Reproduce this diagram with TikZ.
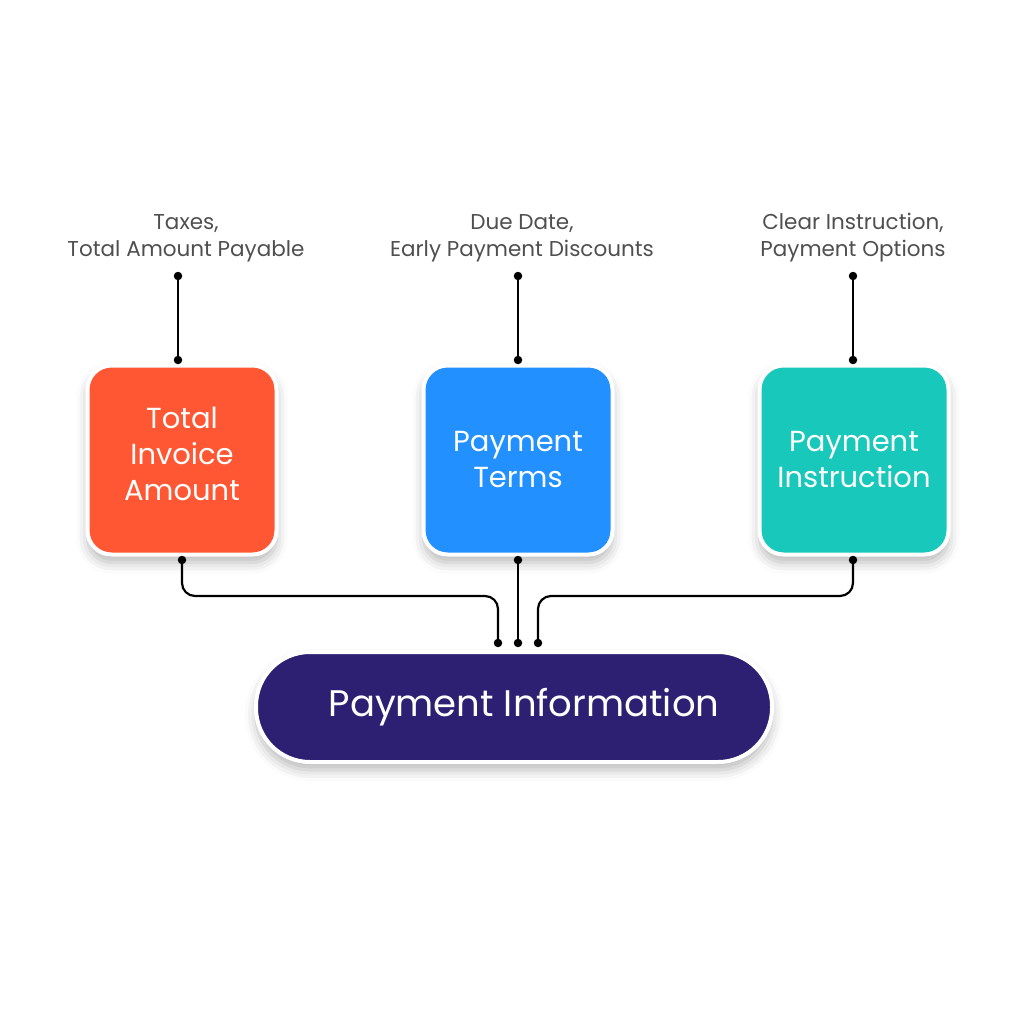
\documentclass[tikz,border=0pt]{standalone}
\usepackage{fontspec}
\setmainfont{Poppins}
\usetikzlibrary{shadows, shadows.blur, positioning}

\definecolor{invoiceorange}{HTML}{FF5733}
\definecolor{termsblue}{HTML}{2291FF}
\definecolor{instrteal}{HTML}{18C8BA}
\definecolor{infonavy}{HTML}{2D1F72}
\definecolor{labelgray}{HTML}{4F4F4F}

\tikzset{
  card/.style={rounded corners=24pt, draw=white, line width=4pt,
    minimum width=189pt, minimum height=189pt, text=white, align=center,
    font=\fontsize{29}{36}\selectfont,
    blur shadow={shadow xshift=0pt, shadow yshift=-8pt, shadow blur radius=11pt, shadow opacity=28}},
  pill/.style={rounded corners=54pt, draw=white, line width=4pt,
    minimum width=516pt, minimum height=110pt, fill=infonavy, text=white,
    font=\fontsize{37}{40}\selectfont,
    blur shadow={shadow xshift=0pt, shadow yshift=-8pt, shadow blur radius=11pt, shadow opacity=28}},
  toplabel/.style={align=center, text=labelgray, font=\fontsize{21.5}{27}\selectfont},
  link/.style={line width=2.2pt, black, rounded corners=13pt},
  dot/.style={circle, fill=black, inner sep=0pt, minimum size=8.5pt}
}

\begin{document}
\begin{tikzpicture}[x=1pt, y=-1pt]
  \useasboundingbox (0,0) rectangle (1024,1024);

  % three cards
  \node[card, fill=invoiceorange] (invoice) at (182,460) {Total\\Invoice\\Amount\\[-24pt]};
  \node[card, fill=termsblue] (terms) at (518,460) {Payment\\Terms};
  \node[card, fill=instrteal] (instr) at (854,460) {Payment\\Instruction};

  % main pill
  \node[pill] (info) at (514,707) {\hspace*{20pt}Payment Information};

  % labels on top
  \node[toplabel] (taxes) at (186,238) {Taxes,\\Total Amount Payable};
  \node[toplabel] (due) at (522,238) {Due Date,\\Early Payment Discounts};
  \node[toplabel] (clear) at (853,238) {Clear Instruction,\\Payment Options};

  % dots above the cards
  \node[dot] (taxes-end) at (178,276) {};
  \node[dot] (invoice-top) at (178,360) {};
  \node[dot] (due-end) at (518,276) {};
  \node[dot] (terms-top) at (518,360) {};
  \node[dot] (clear-end) at (853,276) {};
  \node[dot] (instr-top) at (853,360) {};

  % dots below the cards
  \node[dot] (invoice-bot) at (182,560) {};
  \node[dot] (terms-bot) at (518,560) {};
  \node[dot] (instr-bot) at (853,560) {};
  \node[dot] (info-left) at (498,643) {};
  \node[dot] (info-mid) at (518,643) {};
  \node[dot] (info-right) at (538,643) {};
  \coordinate (bus) at (0,596);

  \draw[link] (taxes-end.center) -- (invoice-top.center);
  \draw[link] (due-end.center) -- (terms-top.center);
  \draw[link] (clear-end.center) -- (instr-top.center);

  \draw[link] (invoice-bot.center) |- (info-left.center |- bus) -- (info-left.center);
  \draw[link] (terms-bot.center) -- (info-mid.center);
  \draw[link] (instr-bot.center) |- (info-right.center |- bus) -- (info-right.center);
\end{tikzpicture}
\end{document}
